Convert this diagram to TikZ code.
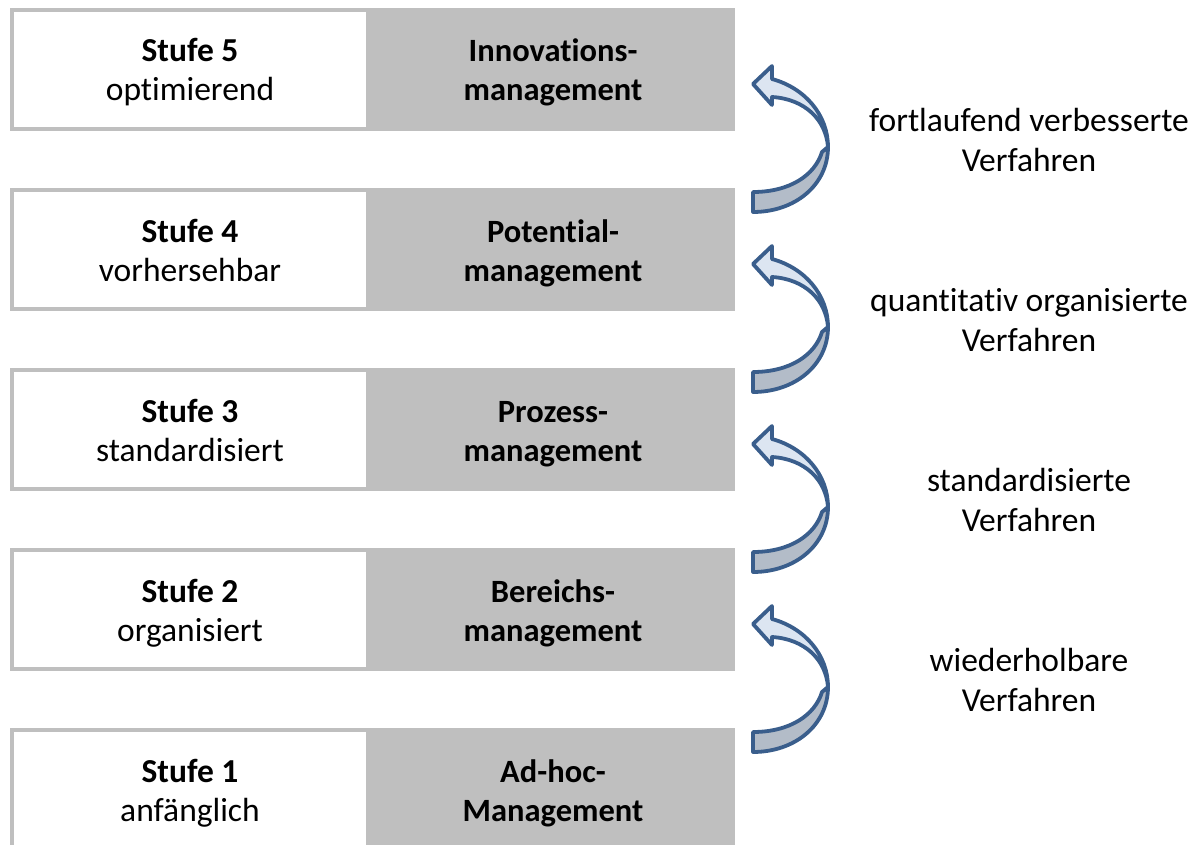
\documentclass[tikz,border=0pt]{standalone}
\usepackage{fontspec}
\setmainfont{Carlito}[Ligatures={NoCommon,NoRare,NoContextual}]
\usetikzlibrary{calc}
\definecolor{boxgray}{HTML}{BFBFBF}
\definecolor{arrline}{HTML}{3A5E8C}
\definecolor{arrlight}{HTML}{DCE5F1}
\definecolor{arrdark}{HTML}{B3BCC8}
\newcommand\topst{\rule{0pt}{32pt}}
\newcommand\botst{\rule[-8pt]{0pt}{8pt}}
\tikzset{
  lbox/.style={rectangle, draw=boxgray, line width=4pt, fill=white,
    minimum width=356pt, minimum height=119pt, inner sep=0pt, outer sep=0pt,
    align=center, font=\fontsize{33.5}{39}\selectfont},
  rbox/.style={lbox, fill=boxgray, minimum width=365pt,
    font=\fontsize{32.5}{39}\selectfont\bfseries},
  note/.style={align=center, font=\fontsize{33.5}{40}\selectfont, inner sep=0pt},
  arrowface/.style={draw=arrline, line width=3.8pt, line join=round},
  pics/curvarrow/.style={code={
    \path[arrowface, fill=arrdark]
      (75,2) .. controls (75,40) and (42,67) .. (0,67)
      -- (0,47) .. controls (37,47) and (62,30) .. (69,7) -- cycle;
    \path[arrowface, fill=arrlight]
      (19,-66) .. controls (52,-57) and (75,-30) .. (75,2)
      .. controls (73,-25) and (52,-46) .. (19,-48)
      -- (19,-40) -- (0,-61) -- (19,-79) -- cycle;
  }}
}
\begin{document}
\begin{tikzpicture}[x=1pt,y=-1pt]
\useasboundingbox (0,0) rectangle (1197,845);
\clip (0,0) rectangle (1197,845);
% rows
\node[lbox] (l5) at (190,69.5) {\topst\textbf{Stufe 5}\\optimierend\botst};
\node[rbox] (r5) at (550.5,69.5) {\topst\hspace{5pt}Innovations-\\\hspace{5pt}management\botst};
\node[lbox] (l4) at (190,249.5) {\topst\textbf{Stufe 4}\\vorhersehbar\botst};
\node[rbox] (r4) at (550.5,249.5) {\topst\hspace{5pt}Potent\kern0pt ial-\\\hspace{5pt}management\botst};
\node[lbox] (l3) at (190,429.5) {\topst\textbf{Stufe 3}\\standardisiert\botst};
\node[rbox] (r3) at (550.5,429.5) {\topst\hspace{5pt}Prozess-\\\hspace{5pt}management\botst};
\node[lbox] (l2) at (190,609.5) {\topst\textbf{Stufe 2}\\organisiert\botst};
\node[rbox] (r2) at (550.5,609.5) {\topst\hspace{5pt}Bereichs-\\\hspace{5pt}management\botst};
\node[lbox] (l1) at (190,789.5) {\topst\textbf{Stufe 1}\\anfänglich\botst};
\node[rbox] (r1) at (550.5,789.5) {\topst\hspace{5pt}Ad-hoc-\\\hspace{5pt}Management\botst};
% arrows between levels
\pic (a4) at ($(r5.east)!0.5!(r4.east)+(20,-14.5)$) {curvarrow};
\pic (a3) at ($(r4.east)!0.5!(r3.east)+(20,-14.5)$) {curvarrow};
\pic (a2) at ($(r3.east)!0.5!(r2.east)+(20,-14.5)$) {curvarrow};
\pic (a1) at ($(r2.east)!0.5!(r1.east)+(20,-14.5)$) {curvarrow};
% labels
\node[note] (n4) at (1029,140) {fortlaufend verbesserte\\Verfahren};
\node[note] (n3) at (1029,320) {quant\kern0pt itat\kern0pt iv organisierte\\Verfahren};
\node[note] (n2) at (1029,500) {standardisierte\\Verfahren};
\node[note] (n1) at (1029,680) {wiederholbare\\Verfahren};
\end{tikzpicture}
\end{document}
